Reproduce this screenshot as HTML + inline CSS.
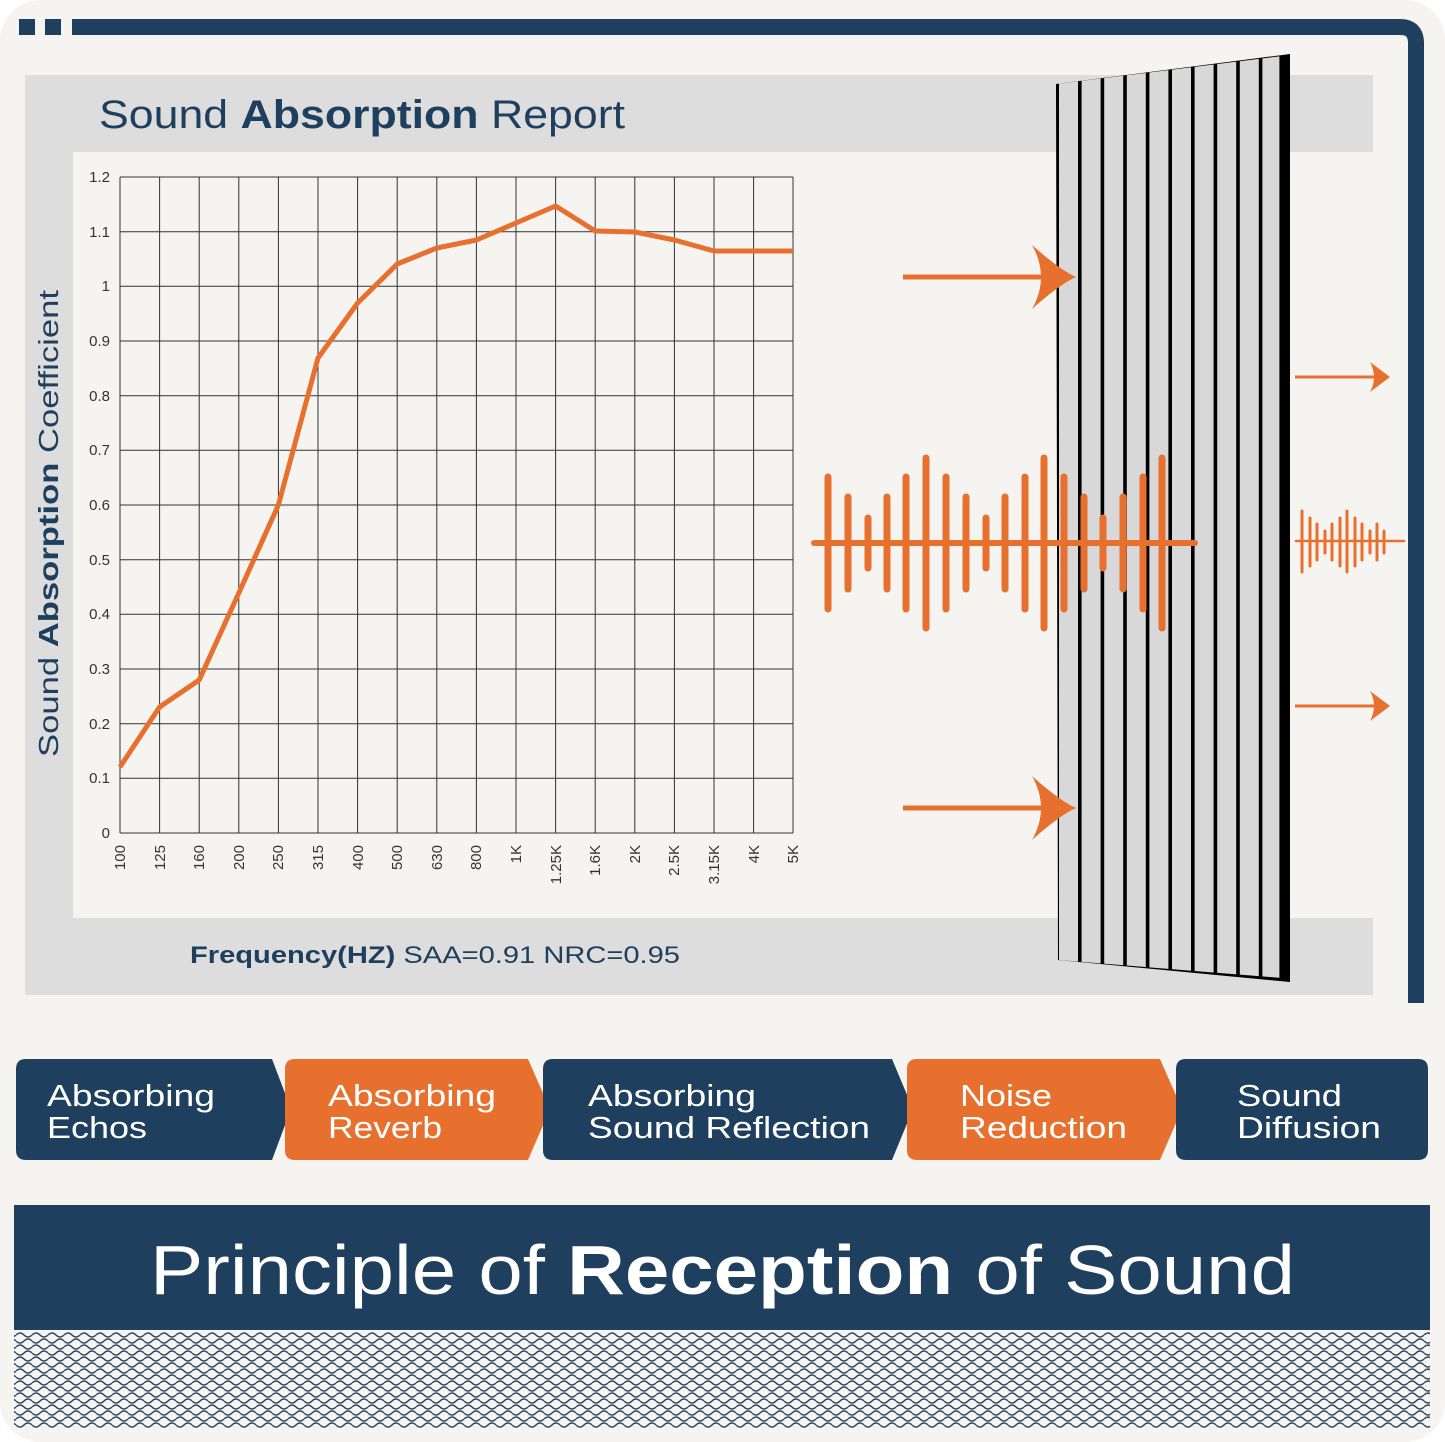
<!DOCTYPE html>
<html><head><meta charset="utf-8"><style>
html,body{margin:0;padding:0;background:#fff;}
svg{display:block;font-family:"Liberation Sans",sans-serif;}
</style></head><body>
<svg width="1445" height="1442" viewBox="0 0 1445 1442" xmlns="http://www.w3.org/2000/svg">
<defs>
<pattern id="wv" width="16" height="12" patternUnits="userSpaceOnUse">
<path d="M0 3 Q4 -1 8 3 Q12 7 16 3" fill="none" stroke="#2e4a62" stroke-width="1.5"/>
<path d="M0 9 Q4 13 8 9 Q12 5 16 9" fill="none" stroke="#2e4a62" stroke-width="1.5"/>
</pattern>
<clipPath id="pc"><polygon points="1056,84 1282,56 1282,978 1058,960"/></clipPath>
</defs>
<rect x="0" y="0" width="1445" height="1442" rx="40" fill="#f5f4f1"/>
<rect x="19" y="19" width="16" height="16" fill="#1f3f5e"/>
<rect x="45" y="19" width="16" height="16" fill="#1f3f5e"/>
<path d="M72 27 H1400 Q1416 27 1416 43 V1003" fill="none" stroke="#1f3f5e" stroke-width="16"/>
<rect x="25" y="75" width="1348" height="920" fill="#dcdddc"/>
<rect x="73" y="152" width="1300" height="766" fill="#f5f4f1"/>
<text x="99" y="128" font-size="40" fill="#1f3f5e" textLength="526" lengthAdjust="spacingAndGlyphs">Sound <tspan font-weight="bold">Absorption</tspan> Report</text>
<text transform="translate(58,757) rotate(-90)" font-size="28" fill="#1f3f5e" textLength="467" lengthAdjust="spacingAndGlyphs">Sound <tspan font-weight="bold">Absorption</tspan> Coefficient</text>
<text x="190" y="963" font-size="24" fill="#1f3f5e" textLength="490" lengthAdjust="spacingAndGlyphs"><tspan font-weight="bold">Frequency(HZ)</tspan>  SAA=0.91  NRC=0.95</text>
<g stroke="#333" stroke-width="1">
<path d="M120 177V833M159.6 177V833M199.2 177V833M238.8 177V833M278.4 177V833M318 177V833M357.6 177V833M397.2 177V833M436.8 177V833M476.4 177V833M516 177V833M555.6 177V833M595.2 177V833M634.8 177V833M674.4 177V833M714 177V833M753.6 177V833M793 177V833"/>
<path d="M120 177H793M120 231.7H793M120 286.3H793M120 341H793M120 395.7H793M120 450.3H793M120 505H793M120 559.7H793M120 614.3H793M120 669H793M120 723.7H793M120 778.3H793M120 833H793"/>
</g>
<g font-size="15" fill="#333" text-anchor="end">
<text x="110" y="182">1.2</text><text x="110" y="237">1.1</text><text x="110" y="291">1</text><text x="110" y="346">0.9</text><text x="110" y="401">0.8</text><text x="110" y="455">0.7</text><text x="110" y="510">0.6</text><text x="110" y="565">0.5</text><text x="110" y="619">0.4</text><text x="110" y="674">0.3</text><text x="110" y="729">0.2</text><text x="110" y="783">0.1</text><text x="110" y="838">0</text>
</g>
<g font-size="15" fill="#333" text-anchor="end">
<text transform="translate(125,845) rotate(-90)">100</text>
<text transform="translate(165,845) rotate(-90)">125</text>
<text transform="translate(204,845) rotate(-90)">160</text>
<text transform="translate(244,845) rotate(-90)">200</text>
<text transform="translate(283,845) rotate(-90)">250</text>
<text transform="translate(323,845) rotate(-90)">315</text>
<text transform="translate(363,845) rotate(-90)">400</text>
<text transform="translate(402,845) rotate(-90)">500</text>
<text transform="translate(442,845) rotate(-90)">630</text>
<text transform="translate(481,845) rotate(-90)">800</text>
<text transform="translate(521,845) rotate(-90)">1K</text>
<text transform="translate(561,845) rotate(-90)">1.25K</text>
<text transform="translate(600,845) rotate(-90)">1.6K</text>
<text transform="translate(640,845) rotate(-90)">2K</text>
<text transform="translate(679,845) rotate(-90)">2.5K</text>
<text transform="translate(719,845) rotate(-90)">3.15K</text>
<text transform="translate(759,845) rotate(-90)">4K</text>
<text transform="translate(798,845) rotate(-90)">5K</text>
</g>
<polyline fill="none" stroke="#e8702e" stroke-width="5" stroke-linejoin="round" points="120,767 159.6,707 199.2,680 238.8,593 278.4,505 318,358 357.6,303 397.2,264 436.8,248 476.4,240 516,223 555.6,206 595.2,231 634.8,232 674.4,240 714,251 753.6,251 793,251"/>
<polygon points="1056,84 1290,54 1290,982 1058,960" fill="#000"/>
<g clip-path="url(#pc)" fill="#d8d8d8">
<rect x="1059" y="0" width="19" height="1000"/><rect x="1081.6" y="0" width="19" height="1000"/><rect x="1104.2" y="0" width="19" height="1000"/><rect x="1126.8" y="0" width="19" height="1000"/><rect x="1149.4" y="0" width="19" height="1000"/><rect x="1172" y="0" width="19" height="1000"/><rect x="1194.6" y="0" width="19" height="1000"/><rect x="1217.2" y="0" width="19" height="1000"/><rect x="1239.8" y="0" width="19" height="1000"/><rect x="1262.4" y="0" width="17" height="1000"/>
</g>
<g fill="#e8702e" stroke="#e8702e">
<line x1="903" y1="277" x2="1060" y2="277" stroke-width="5"/>
<path d="M1032 245 Q1060 270 1076 277 Q1060 284 1032 309 Q1050 277 1032 245Z" stroke="none"/>
<line x1="903" y1="808" x2="1060" y2="808" stroke-width="5"/>
<path d="M1032 776 Q1060 801 1076 808 Q1060 815 1032 840 Q1050 808 1032 776Z" stroke="none"/>
<line x1="1295" y1="377" x2="1385" y2="377" stroke-width="3"/>
<path d="M1370 362 L1390 377 L1370 392 Q1378 377 1370 362Z" stroke="none"/>
<line x1="1295" y1="706" x2="1385" y2="706" stroke-width="3"/>
<path d="M1370 691 L1390 706 L1370 721 Q1378 706 1370 691Z" stroke="none"/>
</g>
<g stroke="#e8702e" stroke-width="7" stroke-linecap="round">
<line x1="828" y1="477" x2="828" y2="609"/><line x1="848" y1="497" x2="848" y2="589"/><line x1="868" y1="518" x2="868" y2="568"/><line x1="887" y1="497" x2="887" y2="589"/><line x1="906" y1="477" x2="906" y2="609"/><line x1="926" y1="458" x2="926" y2="628"/><line x1="946" y1="477" x2="946" y2="609"/><line x1="966" y1="497" x2="966" y2="589"/><line x1="986" y1="518" x2="986" y2="568"/><line x1="1005" y1="497" x2="1005" y2="589"/><line x1="1025" y1="477" x2="1025" y2="609"/><line x1="1044" y1="458" x2="1044" y2="628"/><line x1="1064" y1="477" x2="1064" y2="609"/><line x1="1084" y1="497" x2="1084" y2="589"/><line x1="1103" y1="518" x2="1103" y2="568"/><line x1="1123" y1="497" x2="1123" y2="589"/><line x1="1143" y1="477" x2="1143" y2="609"/><line x1="1162" y1="458" x2="1162" y2="628"/>
<line x1="814" y1="543" x2="1195" y2="543" stroke-width="6"/>
</g>
<g stroke="#e8702e" stroke-width="3" stroke-linecap="round">
<line x1="1302" y1="511" x2="1302" y2="572"/><line x1="1310" y1="518" x2="1310" y2="566"/><line x1="1317" y1="524" x2="1317" y2="560"/><line x1="1325" y1="531" x2="1325" y2="553"/><line x1="1332" y1="524" x2="1332" y2="560"/><line x1="1340" y1="518" x2="1340" y2="566"/><line x1="1347" y1="511" x2="1347" y2="572"/><line x1="1355" y1="518" x2="1355" y2="566"/><line x1="1362" y1="524" x2="1362" y2="560"/><line x1="1370" y1="531" x2="1370" y2="553"/><line x1="1377" y1="524" x2="1377" y2="560"/><line x1="1384" y1="531" x2="1384" y2="553"/>
<line x1="1296" y1="541" x2="1404" y2="541" stroke-width="2.5"/>
</g>
<path d="M26 1059 H272 L291 1109 L272 1160 H26 Q16 1160 16 1150 V1069 Q16 1059 26 1059Z" fill="#1f3f5e"/>
<path d="M295 1059 H528 L550 1109 L528 1160 H295 Q285 1160 285 1150 V1069 Q285 1059 295 1059Z" fill="#e8702e"/>
<path d="M553 1059 H892 L913 1109 L892 1160 H553 Q543 1160 543 1150 V1069 Q543 1059 553 1059Z" fill="#1f3f5e"/>
<path d="M917 1059 H1160 L1182 1109 L1160 1160 H917 Q907 1160 907 1150 V1069 Q907 1059 917 1059Z" fill="#e8702e"/>
<path d="M1186 1059 H1418 Q1428 1059 1428 1069 V1150 Q1428 1160 1418 1160 H1186 Q1176 1160 1176 1150 V1069 Q1176 1059 1186 1059Z" fill="#1f3f5e"/>
<g fill="#fff" font-size="31" lengthAdjust="spacingAndGlyphs">
<text x="47" y="1106" textLength="168" lengthAdjust="spacingAndGlyphs">Absorbing</text><text x="47" y="1138" textLength="100" lengthAdjust="spacingAndGlyphs">Echos</text>
<text x="328" y="1106" textLength="168" lengthAdjust="spacingAndGlyphs">Absorbing</text><text x="328" y="1138" textLength="114" lengthAdjust="spacingAndGlyphs">Reverb</text>
<text x="588" y="1106" textLength="168" lengthAdjust="spacingAndGlyphs">Absorbing</text><text x="588" y="1138" textLength="282" lengthAdjust="spacingAndGlyphs">Sound Reflection</text>
<text x="960" y="1106" textLength="92" lengthAdjust="spacingAndGlyphs">Noise</text><text x="960" y="1138" textLength="167" lengthAdjust="spacingAndGlyphs">Reduction</text>
<text x="1237" y="1106" textLength="105" lengthAdjust="spacingAndGlyphs">Sound</text><text x="1237" y="1138" textLength="144" lengthAdjust="spacingAndGlyphs">Diffusion</text>
</g>
<rect x="14" y="1205" width="1416" height="125" fill="#1f3f5e"/>
<text x="150" y="1294" font-size="70" fill="#fff" textLength="1145" lengthAdjust="spacingAndGlyphs">Principle of <tspan font-weight="bold">Reception</tspan> of Sound</text>
<rect x="14" y="1332" width="1416" height="96" fill="url(#wv)"/>
</svg>
</body></html>
